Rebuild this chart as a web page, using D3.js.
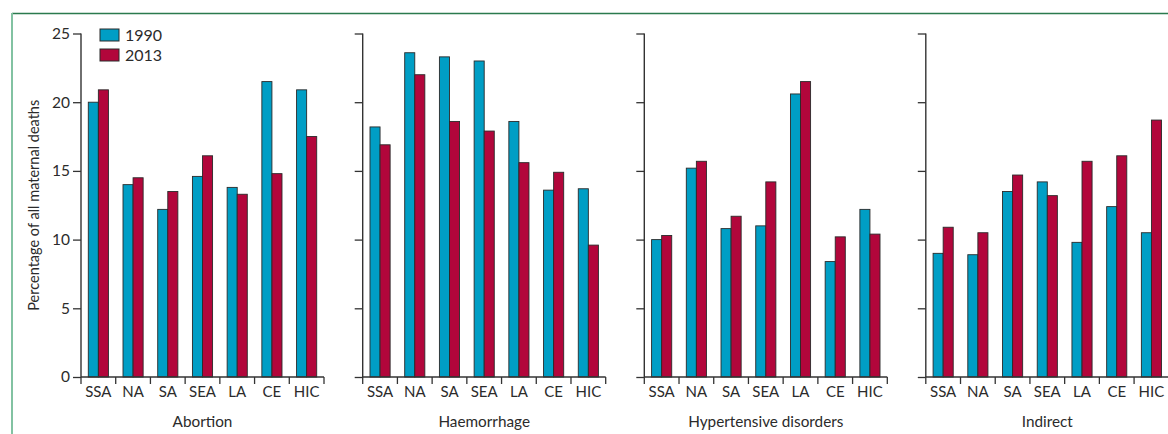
<!DOCTYPE html>
<html>
<head>
<meta charset="utf-8">
<script src="https://cdn.jsdelivr.net/npm/d3@7"></script>
<style>
  html, body { margin: 0; padding: 0; background: #fff; }
  svg { display: block; }
  text { font-family: Lato, "Open Sans", sans-serif; fill: #2b2b2b; }
</style>
</head>
<body>
<svg id="chart" width="1168" height="434"></svg>
<script>
// Regions shown along each panel's x axis
const regions = ["SSA", "NA", "SA", "SEA", "LA", "CE", "HIC"];
const years = ["1990", "2013"];
const causes = ["Abortion", "Haemorrhage", "Hypertensive disorders", "Indirect"];
const yTicks = [0, 5, 10, 15, 20, 25];

// Share of all maternal deaths (%), by region, for each cause
const abortion1990 = [20.0, 14.0, 12.2, 14.6, 13.8, 21.5, 20.9];
const abortion2013 = [20.9, 14.5, 13.5, 16.1, 13.3, 14.8, 17.5];
const haemorrhage1990 = [18.2, 23.6, 23.3, 23.0, 18.6, 13.6, 13.7];
const haemorrhage2013 = [16.9, 22.0, 18.6, 17.9, 15.6, 14.9, 9.6];
const hypertensive1990 = [10.0, 15.2, 10.8, 11.0, 20.6, 8.4, 12.2];
const hypertensive2013 = [10.3, 15.7, 11.7, 14.2, 21.5, 10.2, 10.4];
const indirect1990 = [9.0, 8.9, 13.5, 14.2, 9.8, 12.4, 10.5];
const indirect2013 = [10.9, 10.5, 14.7, 13.2, 15.7, 16.1, 18.7];

const seriesByCause = [
  [abortion1990, abortion2013],
  [haemorrhage1990, haemorrhage2013],
  [hypertensive1990, hypertensive2013],
  [indirect1990, indirect2013]
];

const colors = { "1990": "#009ec5", "2013": "#b2063b" };
const font = "Lato, 'Open Sans', sans-serif";

const svg = d3.select("#chart");

// Frame: dark green rule on top, pale green rule on the left
svg.append("line").attr("x1", 12).attr("x2", 1168).attr("y1", 13.5).attr("y2", 13.5)
  .attr("stroke", "#2b7a4e").attr("stroke-width", 1.5);
svg.append("line").attr("x1", 12).attr("x2", 12).attr("y1", 13).attr("y2", 434)
  .attr("stroke", "#82c2a2").attr("stroke-width", 2);

const panelLeft = [81, 362.7, 644.3, 925.8];
const panelWidth = 243;
const plotTop = 33.5, plotBottom = 377;

const y = d3.scaleLinear().domain([0, 25]).range([plotBottom, plotTop]);

causes.forEach((cause, pi) => {
  const x0 = panelLeft[pi];
  const x = d3.scaleBand().domain(regions).range([x0, x0 + panelWidth])
    .paddingInner(0.42).paddingOuter(0.21);
  const xs = d3.scaleBand().domain(years).range([0, x.bandwidth()]);
  const g = svg.append("g");

  // bars
  years.forEach((yr, si) => {
    const vals = seriesByCause[pi][si];
    g.selectAll(null).data(regions).enter().append("rect")
      .attr("x", r => x(r) + xs(yr))
      .attr("y", (r, i) => y(vals[i]))
      .attr("width", xs.bandwidth())
      .attr("height", (r, i) => y(0) - y(vals[i]))
      .attr("fill", colors[yr])
      .attr("stroke", "#2a2a2a")
      .attr("stroke-width", 0.9);
  });

  // y axis
  const yAxis = d3.axisLeft(y).tickValues(yTicks).tickSize(8).tickPadding(3);
  if (pi > 0) yAxis.tickFormat("");
  const ya = g.append("g").attr("transform", `translate(${x0},0)`).call(yAxis);
  ya.select(".domain").attr("d", `M0,${plotTop}V${plotBottom}`).attr("stroke", "#333").attr("stroke-width", 1.4);
  ya.selectAll(".tick line").attr("stroke", "#333").attr("stroke-width", 1.3);
  ya.selectAll(".tick text").style("font-size", "15.5px").style("font-family", font).attr("fill", "#2b2b2b");

  // x axis: region labels, boundary ticks between bands
  const xa = g.append("g").attr("transform", `translate(0,${plotBottom})`)
    .call(d3.axisBottom(x).tickSize(0).tickPadding(9));
  xa.select(".domain").attr("d", `M${x0},0H${x0 + panelWidth}`).attr("stroke", "#333").attr("stroke-width", 1.4);
  xa.selectAll(".tick text").style("font-size", "15px").style("font-family", font).attr("fill", "#2b2b2b");
  const step = x.step();
  const bounds = d3.range(regions.length + 1).map(i => x0 + i * step);
  xa.selectAll(".bound").data(bounds).enter().append("line")
    .attr("class", "bound")
    .attr("x1", d => d).attr("x2", d => d).attr("y1", 0).attr("y2", 7)
    .attr("stroke", "#333").attr("stroke-width", 1.3);

  // cause title
  g.append("text").attr("x", x0 + panelWidth / 2).attr("y", 427)
    .attr("text-anchor", "middle").style("font-size", "15.3px").text(cause);
});

// y axis title
svg.append("text")
  .attr("transform", `translate(39,${(plotTop + plotBottom) / 2}) rotate(-90)`)
  .attr("text-anchor", "middle").style("font-size", "14.5px")
  .text("Percentage of all maternal deaths");

// legend
const legend = svg.append("g").attr("transform", "translate(100,29)");
years.forEach((yr, i) => {
  legend.append("rect").attr("x", 0).attr("y", i * 20).attr("width", 19).attr("height", 12)
    .attr("fill", colors[yr]).attr("stroke", "#2a2a2a").attr("stroke-width", 1);
  legend.append("text").attr("x", 25).attr("y", i * 20 + 12).style("font-size", "16px").text(yr);
});
</script>
</body>
</html>
